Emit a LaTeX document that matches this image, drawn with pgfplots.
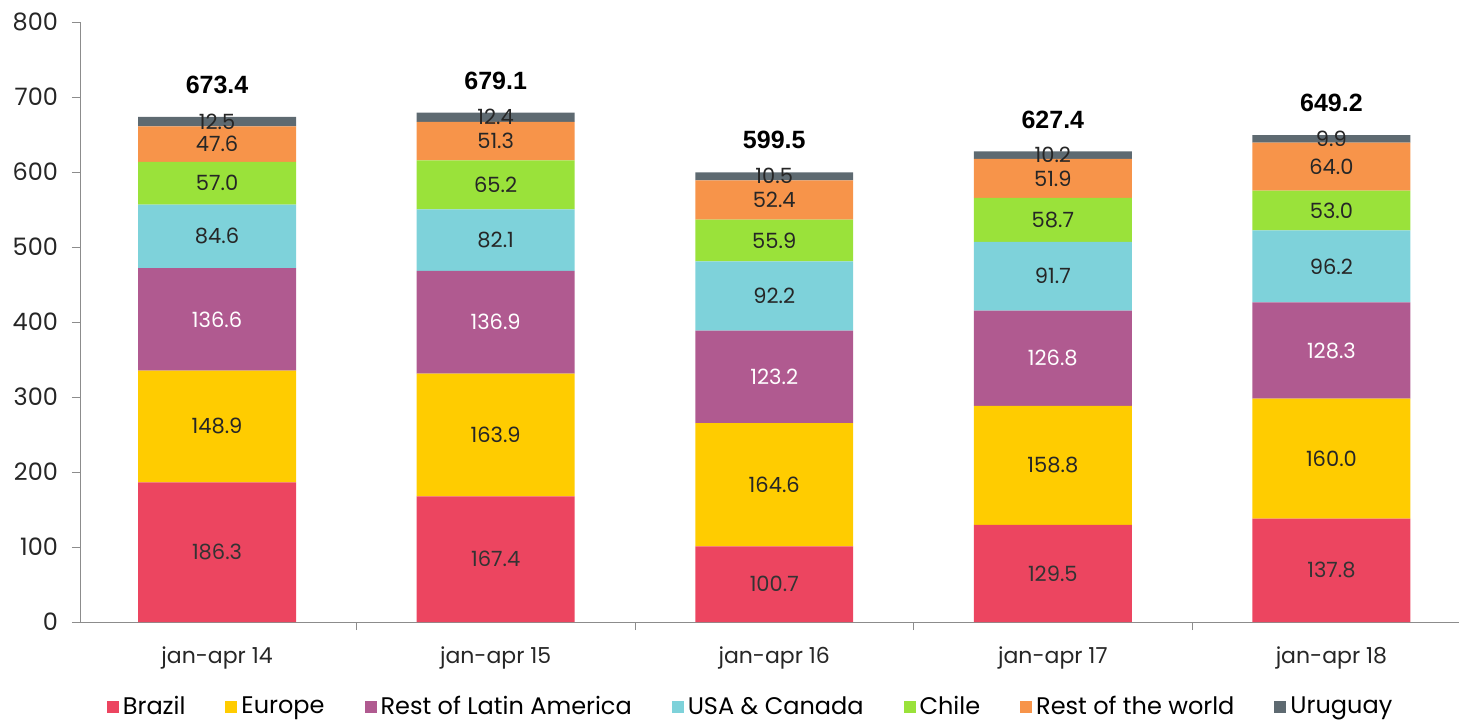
\documentclass[border=0pt]{standalone}
\usepackage{pgfplots}
\usepackage{pgfplotstable}
\pgfplotsset{compat=1.18}
\usepackage{fontspec}
\setmainfont{Poppins}
\newfontfamily\totfont{Liberation Sans}
\definecolor{cBR}{HTML}{EC4560}
\definecolor{cEU}{HTML}{FFCC00}
\definecolor{cRLA}{HTML}{B05A90}
\definecolor{cUSA}{HTML}{7ED2DA}
\definecolor{cCH}{HTML}{9AE23A}
\definecolor{cRW}{HTML}{F7944A}
\definecolor{cUR}{HTML}{5E6A71}
\definecolor{axgray}{HTML}{8C8C8C}
\pgfplotstableread{
x br eu rla usa ch rw ur tot
0 186.3 148.9 136.6 84.6 57.0 47.6 12.5 673.4
1 167.4 163.9 136.9 82.1 65.2 51.3 12.4 679.1
2 100.7 164.6 123.2 92.2 55.9 52.4 10.5 599.5
3 129.5 158.8 126.8 91.7 58.7 51.9 10.2 627.4
4 137.8 160.0 128.3 96.2 53.0 64.0 9.9 649.2
}\data
% label positions: middle of each stacked segment, computed from the data
\pgfplotstablecreatecol[create col/expr={\thisrow{br}/2}]{mbr}\data
\pgfplotstablecreatecol[create col/expr={\thisrow{br}+\thisrow{eu}/2}]{meu}\data
\pgfplotstablecreatecol[create col/expr={\thisrow{br}+\thisrow{eu}+\thisrow{rla}/2}]{mrla}\data
\pgfplotstablecreatecol[create col/expr={\thisrow{br}+\thisrow{eu}+\thisrow{rla}+\thisrow{usa}/2}]{musa}\data
\pgfplotstablecreatecol[create col/expr={\thisrow{br}+\thisrow{eu}+\thisrow{rla}+\thisrow{usa}+\thisrow{ch}/2}]{mch}\data
\pgfplotstablecreatecol[create col/expr={\thisrow{br}+\thisrow{eu}+\thisrow{rla}+\thisrow{usa}+\thisrow{ch}+\thisrow{rw}/2}]{mrw}\data
\pgfplotstablecreatecol[create col/expr={\thisrow{br}+\thisrow{eu}+\thisrow{rla}+\thisrow{usa}+\thisrow{ch}+\thisrow{rw}+\thisrow{ur}/2}]{mur}\data
\pgfplotsset{
  common/.style={scale only axis, width=689.5pt, height=300pt,
    xmin=-0.492, xmax=4.458, ymin=0, ymax=800},
  lab/.style={only marks, mark=none, point meta=explicit,
    nodes near coords={\pgfmathprintnumber[fixed,fixed zerofill,precision=1,assume math mode=true]{\pgfplotspointmeta}},
    every node near coord/.append style={anchor=center, inner sep=0pt, text=#1, font=\fontsize{10.5}{12}\selectfont}},
}
\begin{document}
\begin{tikzpicture}
\begin{axis}[name=ax, common,
  ybar stacked, bar width=0.567,
  ytick={0,100,...,800},
  xtick={0,1,2,3,4},
  xticklabels={jan-apr 14,jan-apr 15,jan-apr 16,jan-apr 17,jan-apr 18},
  xtick style={draw=none},
  extra x ticks={0.5,1.5,2.5,3.5}, extra x tick labels={},
  extra x tick style={xtick style={draw=axgray}},
  ytick style={draw=axgray},
  tick align=outside, major tick length=4pt,
  axis x line*=bottom, axis y line*=left,
  axis line style={-, draw=axgray},
  /pgf/number format/assume math mode=true,
  tick label style={text=black!85},
  yticklabel style={xshift=-3.5pt, font=\fontsize{12}{14}\selectfont},
  xticklabel style={yshift=-5pt, font=\fontsize{11}{13}\selectfont},
  legend style={at={(0.487,-0.1417)}, anchor=center, draw=none, fill=none,
    legend columns=7, font=\fontsize{12}{14}\selectfont,
    /tikz/every even column/.append style={column sep=18pt}},
  legend image code/.code={\fill[#1] (0pt,-3pt) rectangle (6pt,3pt);},
]
\addplot[fill=cBR, draw=none] table[x=x,y=br]{\data};
\addplot[fill=cEU, draw=none] table[x=x,y=eu]{\data};
\addplot[fill=cRLA, draw=none] table[x=x,y=rla]{\data};
\addplot[fill=cUSA, draw=none] table[x=x,y=usa]{\data};
\addplot[fill=cCH, draw=none] table[x=x,y=ch]{\data};
\addplot[fill=cRW, draw=none] table[x=x,y=rw]{\data};
\addplot[fill=cUR, draw=none] table[x=x,y=ur]{\data};
\legend{Brazil,Europe,Rest of Latin America,USA \& Canada,Chile,Rest of the world,Uruguay}
\end{axis}
\begin{axis}[common, hide axis]
\addplot[lab=black!80] table[x=x,y=mbr,meta=br]{\data};
\addplot[lab=black!85] table[x=x,y=meu,meta=eu]{\data};
\addplot[lab=white] table[x=x,y=mrla,meta=rla]{\data};
\addplot[lab=black!85] table[x=x,y=musa,meta=usa]{\data};
\addplot[lab=black!85] table[x=x,y=mch,meta=ch]{\data};
\addplot[lab=black!85] table[x=x,y=mrw,meta=rw]{\data};
\addplot[lab=black!85] table[x=x,y=mur,meta=ur]{\data};
\addplot[only marks, mark=none, point meta=explicit,
  nodes near coords={\pgfmathprintnumber[fixed,fixed zerofill,precision=1,assume math mode=true]{\pgfplotspointmeta}},
  every node near coord/.append style={anchor=center, yshift=16pt, inner sep=0pt, text=black, font=\totfont\bfseries\fontsize{12.5}{14}\selectfont}]
  table[x=x,y=tot,meta=tot]{\data};
\end{axis}
\pgfresetboundingbox
\useasboundingbox ([xshift=-40pt,yshift=-51.5pt]ax.south west) rectangle ([yshift=11pt]ax.north east);
\end{tikzpicture}
\end{document}
